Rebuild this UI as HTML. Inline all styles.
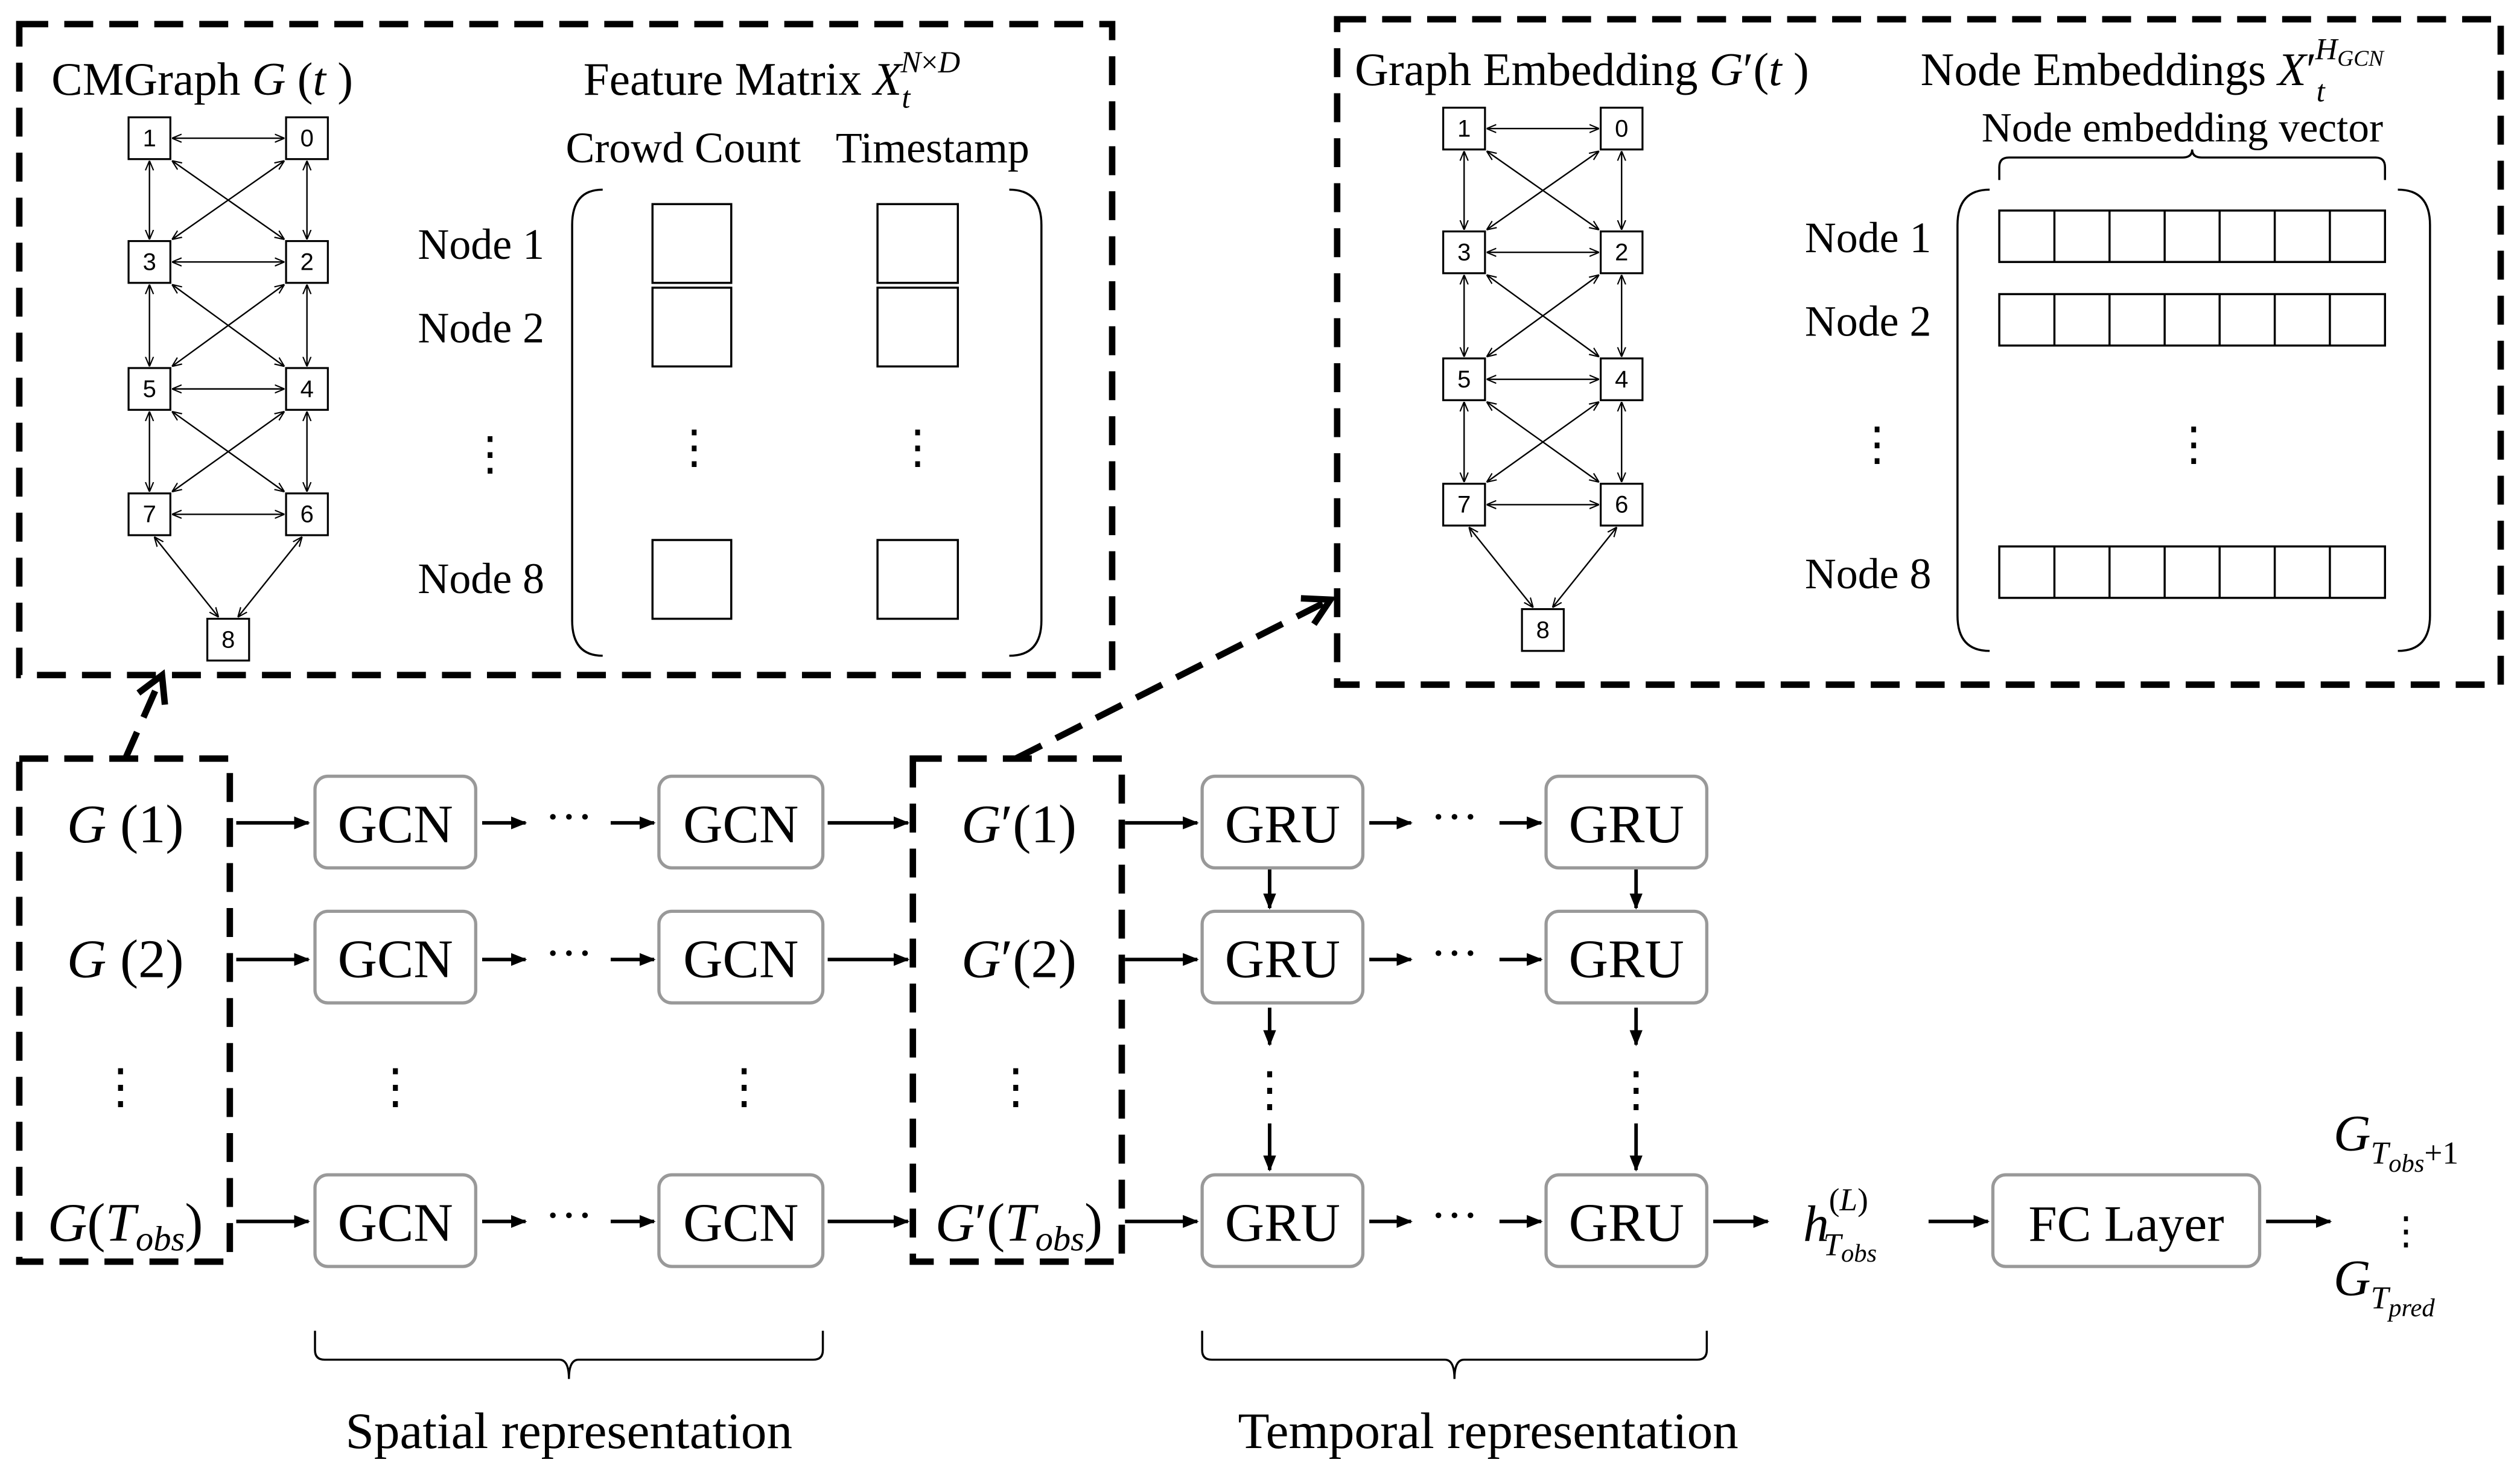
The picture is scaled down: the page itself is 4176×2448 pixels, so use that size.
<!DOCTYPE html>
<html><head><meta charset="utf-8"><style>html,body{margin:0;padding:0;background:#fff}svg{display:block}</style></head><body>
<svg width="4176" height="2448" viewBox="0 0 1568 919" preserveAspectRatio="none" xmlns="http://www.w3.org/2000/svg" font-family="Liberation Serif, serif">
<defs>
<marker id="a" markerWidth="10" markerHeight="10" refX="9" refY="5" orient="auto" markerUnits="userSpaceOnUse"><path d="M0,1 L10,5 L0,9 z" fill="#000"/></marker>
<marker id="s" markerWidth="6" markerHeight="6" refX="6" refY="3" orient="auto-start-reverse" markerUnits="userSpaceOnUse"><path d="M0,0.5 L6,3 L0,5.5" fill="none" stroke="#000" stroke-width="0.8"/></marker>
<marker id="d" markerWidth="22" markerHeight="22" refX="16" refY="11" orient="auto" markerUnits="userSpaceOnUse"><path d="M2,2 L18,11 L2,20" fill="none" stroke="#000" stroke-width="4"/></marker>
</defs>
<g fill="none" stroke="#000" stroke-width="4" stroke-dasharray="18,10">
<rect x="12" y="15" width="680" height="405"/>
<rect x="832" y="12" width="724" height="414"/>
<rect x="12" y="472" width="131" height="313"/>
<rect x="568" y="472" width="130" height="313"/>
<line x1="78" y1="472" x2="100" y2="422" marker-end="url(#d)"/>
<line x1="632" y1="472" x2="826" y2="374" marker-end="url(#d)"/>
</g>
<g id="g1" stroke="#000" stroke-width="0.9" fill="none">
<line x1="107" y1="86" x2="177" y2="86" marker-start="url(#s)" marker-end="url(#s)"/>
<line x1="107" y1="163" x2="177" y2="163" marker-start="url(#s)" marker-end="url(#s)"/>
<line x1="107" y1="242" x2="177" y2="242" marker-start="url(#s)" marker-end="url(#s)"/>
<line x1="107" y1="320" x2="177" y2="320" marker-start="url(#s)" marker-end="url(#s)"/>
<line x1="93" y1="100" x2="93" y2="149" marker-start="url(#s)" marker-end="url(#s)"/>
<line x1="93" y1="177" x2="93" y2="228" marker-start="url(#s)" marker-end="url(#s)"/>
<line x1="93" y1="256" x2="93" y2="306" marker-start="url(#s)" marker-end="url(#s)"/>
<line x1="191" y1="100" x2="191" y2="149" marker-start="url(#s)" marker-end="url(#s)"/>
<line x1="191" y1="177" x2="191" y2="228" marker-start="url(#s)" marker-end="url(#s)"/>
<line x1="191" y1="256" x2="191" y2="306" marker-start="url(#s)" marker-end="url(#s)"/>
<line x1="107" y1="100" x2="177" y2="149" marker-start="url(#s)" marker-end="url(#s)"/>
<line x1="177" y1="100" x2="107" y2="149" marker-start="url(#s)" marker-end="url(#s)"/>
<line x1="107" y1="177" x2="177" y2="228" marker-start="url(#s)" marker-end="url(#s)"/>
<line x1="177" y1="177" x2="107" y2="228" marker-start="url(#s)" marker-end="url(#s)"/>
<line x1="107" y1="256" x2="177" y2="306" marker-start="url(#s)" marker-end="url(#s)"/>
<line x1="177" y1="256" x2="107" y2="306" marker-start="url(#s)" marker-end="url(#s)"/>
<line x1="96" y1="334" x2="136" y2="384" marker-start="url(#s)" marker-end="url(#s)"/>
<line x1="188" y1="334" x2="148" y2="384" marker-start="url(#s)" marker-end="url(#s)"/>
<g fill="#fff" stroke-width="1.2">
<rect x="80" y="73" width="26" height="26"/><rect x="178" y="73" width="26" height="26"/>
<rect x="80" y="150" width="26" height="26"/><rect x="178" y="150" width="26" height="26"/>
<rect x="80" y="229" width="26" height="26"/><rect x="178" y="229" width="26" height="26"/>
<rect x="80" y="307" width="26" height="26"/><rect x="178" y="307" width="26" height="26"/>
<rect x="129" y="385" width="26" height="26"/>
</g>
<g font-family="Liberation Sans, sans-serif" font-size="15" fill="#000" stroke="none" text-anchor="middle">
<text x="93" y="91">1</text><text x="191" y="91">0</text>
<text x="93" y="168">3</text><text x="191" y="168">2</text>
<text x="93" y="247">5</text><text x="191" y="247">4</text>
<text x="93" y="325">7</text><text x="191" y="325">6</text>
<text x="142" y="403">8</text>
</g>
</g>
<use href="#g1" x="818" y="-6"/>
<g fill="none" stroke="#000" stroke-width="1.3">
<rect x="406" y="127" width="49" height="49"/><rect x="406" y="179" width="49" height="49"/><rect x="406" y="336" width="49" height="49"/>
<rect x="546" y="127" width="50" height="49"/><rect x="546" y="179" width="50" height="49"/><rect x="546" y="336" width="50" height="49"/>
<path d="M375,118 Q356,118 356,140 L356,386 Q356,408 375,408"/>
<path d="M628,118 Q648,118 648,140 L648,386 Q648,408 628,408"/>
<path d="M1238,118 Q1218,118 1218,140 L1218,383 Q1218,405 1238,405"/>
<path d="M1492,118 Q1512,118 1512,140 L1512,383 Q1512,405 1492,405"/>
<path d="M1244,112 L1244,104 Q1244,98 1250,98 L1358,98 Q1364,98 1364,93 Q1364,98 1370,98 L1478,98 Q1484,98 1484,104 L1484,112"/>
<path d="M196,828 L196,840 Q196,846 202,846 L348,846 Q354,846 354,858 Q354,846 360,846 L506,846 Q512,846 512,840 L512,828"/>
<path d="M748,828 L748,840 Q748,846 754,846 L899,846 Q905,846 905,858 Q905,846 911,846 L1056,846 Q1062,846 1062,840 L1062,828"/>
</g>
<g fill="none" stroke="#000" stroke-width="1.3">
<g id="row"><rect x="1244" y="131" width="240" height="32"/><path d="M1278.3,131v32M1312.6,131v32M1346.9,131v32M1381.1,131v32M1415.4,131v32M1449.7,131v32"/></g>
<use href="#row" y="52"/><use href="#row" y="209"/>
</g>
<g font-size="29" fill="#000">
<text x="32" y="59">CMGraph <tspan font-style="italic">G</tspan> (<tspan font-style="italic">t</tspan> )</text>
<text x="363" y="59">Feature Matrix <tspan font-style="italic">X</tspan><tspan font-style="italic" font-size="19" dy="8">t</tspan><tspan font-style="italic" font-size="19" dx="-6" dy="-22">N</tspan><tspan font-size="19">×</tspan><tspan font-style="italic" font-size="19">D</tspan></text>
<text x="843" y="53">Graph Embedding <tspan font-style="italic">G</tspan>′(<tspan font-style="italic">t</tspan> )</text>
<text x="1195" y="53">Node Embeddings <tspan font-style="italic">X</tspan>′<tspan font-style="italic" font-size="19" dy="10">t</tspan><tspan font-style="italic" font-size="19" dx="-6" dy="-26">H</tspan><tspan font-style="italic" font-size="14" dy="4">GCN</tspan></text>
<g font-size="27">
<text x="352" y="101">Crowd Count</text><text x="520" y="101">Timestamp</text>
<text x="1233" y="88" font-size="26">Node embedding vector</text>
<text x="260" y="161">Node 1</text><text x="260" y="213">Node 2</text><text x="260" y="369">Node 8</text>
<text x="1123" y="157">Node 1</text><text x="1123" y="209">Node 2</text><text x="1123" y="366">Node 8</text>
</g>
<g text-anchor="middle">
<text x="305" y="292">⋮</text><text x="432" y="288">⋮</text><text x="571" y="288">⋮</text>
<text x="1168" y="286">⋮</text><text x="1365" y="286">⋮</text>
</g>
</g>
<g fill="#fff" stroke="#999" stroke-width="2">
<rect x="196" y="483" width="100" height="57" rx="8"/><rect x="410" y="483" width="102" height="57" rx="8"/>
<rect x="196" y="567" width="100" height="57" rx="8"/><rect x="410" y="567" width="102" height="57" rx="8"/>
<rect x="196" y="731" width="100" height="57" rx="8"/><rect x="410" y="731" width="102" height="57" rx="8"/>
<rect x="748" y="483" width="100" height="57" rx="8"/><rect x="962" y="483" width="100" height="57" rx="8"/>
<rect x="748" y="567" width="100" height="57" rx="8"/><rect x="962" y="567" width="100" height="57" rx="8"/>
<rect x="748" y="731" width="100" height="57" rx="8"/><rect x="962" y="731" width="100" height="57" rx="8"/>
<rect x="1240" y="731" width="166" height="57" rx="8"/>
</g>
<g stroke="#000" stroke-width="2.2" marker-end="url(#a)">
<line x1="147" y1="512" x2="192" y2="512"/><line x1="300" y1="512" x2="327" y2="512"/><line x1="380" y1="512" x2="407" y2="512"/><line x1="515" y1="512" x2="565" y2="512"/>
<line x1="147" y1="597" x2="192" y2="597"/><line x1="300" y1="597" x2="327" y2="597"/><line x1="380" y1="597" x2="407" y2="597"/><line x1="515" y1="597" x2="565" y2="597"/>
<line x1="147" y1="760" x2="192" y2="760"/><line x1="300" y1="760" x2="327" y2="760"/><line x1="380" y1="760" x2="407" y2="760"/><line x1="515" y1="760" x2="565" y2="760"/>
<line x1="700" y1="512" x2="745" y2="512"/><line x1="852" y1="512" x2="878" y2="512"/><line x1="933" y1="512" x2="959" y2="512"/>
<line x1="700" y1="597" x2="745" y2="597"/><line x1="852" y1="597" x2="878" y2="597"/><line x1="933" y1="597" x2="959" y2="597"/>
<line x1="700" y1="760" x2="745" y2="760"/><line x1="852" y1="760" x2="878" y2="760"/><line x1="933" y1="760" x2="959" y2="760"/>
<line x1="1066" y1="760" x2="1100" y2="760"/><line x1="1200" y1="760" x2="1237" y2="760"/><line x1="1410" y1="760" x2="1450" y2="760"/>
<line x1="790" y1="541" x2="790" y2="565"/><line x1="1018" y1="541" x2="1018" y2="565"/>
<line x1="790" y1="627" x2="790" y2="650"/><line x1="1018" y1="627" x2="1018" y2="650"/>
<line x1="790" y1="699" x2="790" y2="728"/><line x1="1018" y1="699" x2="1018" y2="728"/>
</g>
<g font-size="34" fill="#000" text-anchor="middle">
<text x="246" y="524">GCN</text><text x="461" y="524">GCN</text>
<text x="246" y="608">GCN</text><text x="461" y="608">GCN</text>
<text x="246" y="772">GCN</text><text x="461" y="772">GCN</text>
<text x="798" y="524">GRU</text><text x="1012" y="524">GRU</text>
<text x="798" y="608">GRU</text><text x="1012" y="608">GRU</text>
<text x="798" y="772">GRU</text><text x="1012" y="772">GRU</text>
<text x="1323" y="772" font-size="32">FC Layer</text>
<text x="354" y="518" font-size="30">···</text><text x="354" y="603" font-size="30">···</text><text x="354" y="766" font-size="30">···</text>
<text x="905" y="518" font-size="30">···</text><text x="905" y="603" font-size="30">···</text><text x="905" y="766" font-size="30">···</text>
<text x="75" y="686" font-size="30">⋮</text><text x="246" y="686" font-size="30">⋮</text><text x="463" y="686" font-size="30">⋮</text><text x="632" y="686" font-size="30">⋮</text>
<text x="790" y="688" font-size="30">⋮</text><text x="1018" y="688" font-size="30">⋮</text><text x="1497" y="774" font-size="24">⋮</text>
<text x="78" y="524"><tspan font-style="italic">G</tspan> (1)</text>
<text x="78" y="608"><tspan font-style="italic">G</tspan> (2)</text>
<text x="78" y="772"><tspan font-style="italic">G</tspan>(<tspan font-style="italic">T</tspan><tspan font-style="italic" font-size="22" dy="6">obs</tspan><tspan dy="-6">)</tspan></text>
<text x="634" y="524"><tspan font-style="italic">G</tspan>′(1)</text>
<text x="634" y="608"><tspan font-style="italic">G</tspan>′(2)</text>
<text x="634" y="772"><tspan font-style="italic">G</tspan>′(<tspan font-style="italic">T</tspan><tspan font-style="italic" font-size="22" dy="6">obs</tspan><tspan dy="-6">)</tspan></text>
<text x="354" y="901" font-size="32">Spatial representation</text>
<text x="926" y="901" font-size="32">Temporal representation</text>
</g>
<g font-size="32" fill="#000" font-style="italic">
<text x="1122" y="772">h<tspan font-size="20" font-style="normal" dy="-19">(</tspan><tspan font-size="20" dy="0">L</tspan><tspan font-size="20" font-style="normal">)</tspan><tspan font-size="20" dx="-28" dy="28">T</tspan><tspan font-size="16" dy="4">obs</tspan></text>
<text x="1452" y="716">G<tspan font-size="20" dy="8">T</tspan><tspan font-size="16" dy="5">obs</tspan><tspan font-size="20" font-style="normal" dy="-5">+1</tspan></text>
<text x="1452" y="806">G<tspan font-size="20" dy="8">T</tspan><tspan font-size="16" dy="5">pred</tspan></text>
</g>
</svg>
</body></html>
